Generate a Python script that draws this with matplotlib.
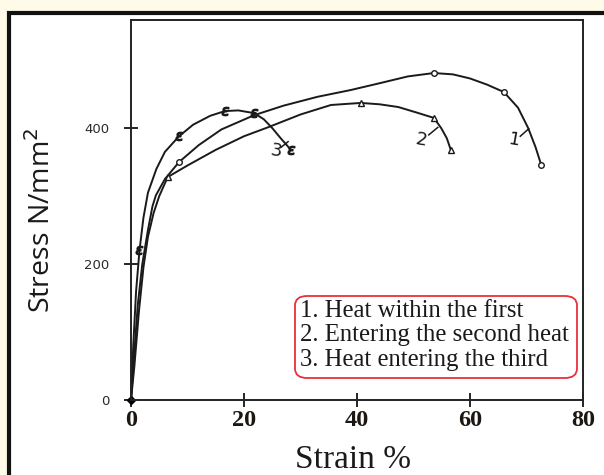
"""Stress-strain curves for three heat conditions (rebuild of a scanned figure)."""

import matplotlib
matplotlib.use("Agg")
import matplotlib.pyplot as plt
from matplotlib.patches import FancyBboxPatch, Rectangle

# curve 1: heat within the first
strain_1 = [0, 0.5, 1.2, 2.0, 3.0, 3.8, 4.4, 6.0, 8.5, 12, 16, 21.8, 27, 33, 38.9,
            44, 49, 53.6, 57, 60, 63, 66, 68.5, 70.3, 71.6, 72.6]
stress_1 = [0, 60, 140, 200, 250, 285, 301, 325, 350, 375, 398, 419, 433, 446, 456,
            466, 476, 481, 479, 473, 464, 453, 430, 400, 372, 346]

# curve 2: entering the second heat
strain_2 = [0, 0.6, 1.4, 2.2, 3.0, 4.0, 5.0, 6.5, 10, 15, 20, 24.2, 30, 35.4, 40.7,
            44, 47.3, 50.5, 53.6, 54.9, 55.9, 56.6]
stress_2 = [0, 50, 130, 195, 240, 275, 300, 328, 345, 368, 388, 401, 420, 434, 437,
            435, 431, 423, 415, 400, 385, 368]

# curve 3: heat entering the third
strain_3 = [0, 0.4, 0.9, 1.5, 2.2, 3.0, 4.5, 6.0, 8.5, 11, 14, 16.6, 19, 21.8,
            23.5, 25, 26.5, 28.3]
stress_3 = [0, 80, 160, 220, 268, 305, 340, 365, 388, 405, 418, 425, 426, 422,
            413, 400, 385, 368]

curve_labels = ["1", "2", "3"]
label_pos = [(67.8, 382), (51.3, 382), (25.7, 366)]
label_ticks = [([68.9, 70.4], [388, 399]), ([52.7, 54.3], [390, 401]), ([26.6, 27.8], [372, 380])]

legend_lines = ["1. Heat within the first",
                "2. Entering the second heat",
                "3. Heat entering the third"]

x_ticks = [0, 20, 40, 60, 80]
y_ticks = [0, 200, 400]

W, H = 604, 475
fig = plt.figure(figsize=(W / 100, H / 100), dpi=100)
fig.patch.set_facecolor("#fffbe8")

# white panel with a heavy black frame running off the right/bottom edge
fig.patches.append(Rectangle((8.5 / W, -0.2), 1.2, 1.2 - 12.5 / H,
                             transform=fig.transFigure, facecolor="white",
                             edgecolor="#111111", linewidth=3, zorder=-1))

ax = fig.add_axes([131 / W, 1 - 400 / H, (583 - 131) / W, (400 - 20) / H])
ax.set_zorder(1)
ax.set_facecolor("none")
ax.set_xlim(0, 80)
ax.set_ylim(0, 559)

lc = "#1a1a1a"
ax.plot(strain_1, stress_1, color=lc, lw=1.4, marker="o", ms=4, mfc="white",
        mew=1, markevery=[8, 17, 21, 25])
ax.plot(strain_2, stress_2, color=lc, lw=1.4, marker="^", ms=4, mfc="white",
        mew=1, markevery=[7, 14, 18, 21])
ax.plot(strain_3, stress_3, color=lc, lw=1.4, marker="$\\epsilon$", ms=6,
        markevery=[3, 8, 11, 13, 17])
ax.plot([0], [0], marker="D", ms=4, color="black", clip_on=False)

for lab, (lx, ly), (tx, ty) in zip(curve_labels, label_pos, label_ticks):
    ax.plot(tx, ty, color=lc, lw=1.1)
    ax.text(lx, ly, lab, fontsize=13, family="DejaVu Sans", color=lc,
            ha="center", va="center", rotation=-10)

for s in ax.spines.values():
    s.set_color("#222222")
    s.set_linewidth(1.4)

ax.set_xticks(x_ticks)
ax.set_xticklabels([str(v) for v in x_ticks], fontsize=17.5, fontweight="bold",
                   family="Liberation Serif", color="#1c1710")
ax.tick_params(axis="x", direction="inout", length=10, width=1.2, pad=2)
ax.set_yticks(y_ticks)
ax.set_yticklabels([str(v) for v in y_ticks], fontsize=9.5, color="#2a2a2a")
ax.tick_params(axis="y", direction="inout", length=10, width=1.2, pad=10.5)

fig.text(353 / W, 1 - 460 / H, "Strain %", fontsize=24, family="Liberation Serif",
         ha="center", va="center", color="#1a1a1a")
fig.text(42 / W, 1 - 220 / H, "Stress N/mm$^2$", fontsize=20.5, family="Open Sans",
         rotation=90, ha="center", va="center", color="#1a1a1a")

# legend box drawn as a rounded red frame with plain text lines
fig.patches.append(FancyBboxPatch((295 / W, 1 - 378 / H), 282 / W, 82 / H,
                                  boxstyle="round,pad=0,rounding_size=0.02",
                                  transform=fig.transFigure, facecolor="white",
                                  edgecolor="#e8303a", linewidth=1.3, zorder=3))
for i, line in enumerate(legend_lines):
    fig.text(300 / W, 1 - (311 + 24.5 * i) / H, line, fontsize=17.8,
             family="Liberation Serif", ha="left", va="center", color="#1a1a1a",
             zorder=4)

fig.savefig("out.png", dpi=100, facecolor=fig.get_facecolor())
